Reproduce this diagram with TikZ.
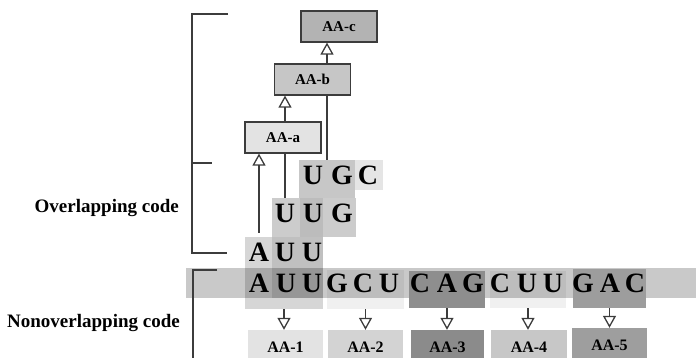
\documentclass[tikz,border=0pt]{standalone}
\usepackage{fontspec}
\setmainfont{Liberation Serif}
\usetikzlibrary{arrows.meta}

\definecolor{ink}{HTML}{3C3C3C}
\definecolor{bandgray}{HTML}{C9C9C9}
\definecolor{aaCol}{HTML}{E3E3E3}
\definecolor{abCol}{HTML}{C6C6C6}
\definecolor{acCol}{HTML}{B3B3B3}
\definecolor{aa1Col}{HTML}{E3E3E3}
\definecolor{aa2Col}{HTML}{D3D3D3}
\definecolor{aa3Col}{HTML}{8B8B8B}
\definecolor{aa4Col}{HTML}{C7C7C7}
\definecolor{aa5Col}{HTML}{9E9E9E}
\definecolor{c3Col}{HTML}{8E8E8E}
\definecolor{c5Col}{HTML}{9D9D9D}

\tikzset{
  topaa/.style={draw=ink, line width=1.2pt, inner sep=0pt, minimum width=76pt, minimum height=31pt,
    font=\fontsize{15}{15}\selectfont\bfseries},
  botaa/.style={inner sep=0pt, minimum width=75pt, minimum height=34pt,
    font=\fontsize{16}{16}\selectfont\bfseries},
  codon/.style={inner sep=0pt},
  base/.style={inner sep=0pt, text=black, font=\fontsize{28}{28}\selectfont\bfseries},
  label/.style={anchor=east, inner sep=0pt, font=\fontsize{19}{19}\selectfont\bfseries},
  conn/.style={draw=ink, line width=1.3pt},
}

\begin{document}
\begin{tikzpicture}[x=1pt, y=-1pt, >={Triangle[open, length=12pt, width=13pt]}]
  \useasboundingbox (0,0) rectangle (696,358);
  % --- reading band ---
  \node[codon, fill=bandgray, minimum width=510pt, minimum height=30pt] (band) at (441,283) {};
  % --- codon boxes ---
  \node[codon, fill=black, fill opacity=.06, minimum width=77pt, minimum height=39pt] (c2) at (365.5,289.5) {};
  \node[codon, fill=black, fill opacity=.06, minimum width=76pt, minimum height=37pt] (c4) at (528,289.5) {};
  \node[codon, fill=black, fill opacity=.16, minimum width=78pt, minimum height=72pt] (c1) at (284,273) {};
  \node[codon, fill=c3Col, minimum width=76pt, minimum height=37pt] (c3) at (447,289.5) {};
  \node[codon, fill=c5Col, minimum width=73pt, minimum height=39pt] (c5) at (609.5,288.5) {};
  % --- overlapping frames ---
  \node[codon, fill=black, fill opacity=.2, minimum width=84pt, minimum height=39pt] (r2) at (314,217.5) {};
  \node[codon, fill=black, fill opacity=.22, minimum width=56pt, minimum height=38pt] (r3) at (327,179) {};
  \node[codon, fill=black, fill opacity=.1, minimum width=28pt, minimum height=30pt] (r3c) at (369,175) {};
  \fill[black, fill opacity=.08] (300,198) rectangle (323,237);
  \fill[black, fill opacity=.1] (272,237) rectangle (323,298);
  % --- letters ---
  \foreach \x/\b [count=\i] in {313/U,342/G,368/C}
    \node[base] (r3-\i) at (\x,175) {\b};
  \foreach \x/\b [count=\i] in {285/U,313/U,342/G}
    \node[base] (r2-\i) at (\x,213) {\b};
  \foreach \x/\b [count=\i] in {259/A,285/U,312/U}
    \node[base] (r1-\i) at (\x,252) {\b};
  \foreach \x/\b [count=\i] in {259/A,286/U,312/U,337/G,363/C,389/U,420/C,447/A,473/G,
                                500/C,527/U,553/U,583/G,610/A,635/C}
    \node[base] (m\i) at (\x,283) {\b};
  % --- amino acids ---
  \node[topaa, fill=aaCol] (aaa) at (283,137.5) {AA-a};
  \node[topaa, fill=abCol] (aab) at (312.5,79.5) {AA-b};
  \node[topaa, fill=acCol] (aac) at (339,26.5) {AA-c};
  \node[botaa, fill=aa1Col] (aa1) at (285.5,347) {AA-1};
  \node[botaa, fill=aa2Col] (aa2) at (365.5,347) {AA-2};
  \node[botaa, fill=aa3Col, minimum width=73pt] (aa3) at (447.5,347) {AA-3};
  \node[botaa, fill=aa4Col, minimum width=76pt] (aa4) at (529,347) {AA-4};
  \node[botaa, fill=aa5Col] (aa5) at (609.5,345) {AA-5};
  % --- arrows ---
  \draw[conn,->] ([yshift=19pt]r1-1.center) -- (r1-1 |- aaa.south);
  \draw[conn] (r2-1 |- aaa.south) -- (r2-1 |- r2.north);
  \draw[conn,->] (r2-1 |- aaa.north) -- (r2-1 |- aab.south);
  \draw[conn] (r3.north |- aab.south) -- (r3.north);
  \draw[conn,->] (r3.north |- aab.north) -- (r3.north |- aac.south);
  \foreach \i in {1,...,5}
    \draw[conn,->] (c\i.south) -- (c\i.south |- aa\i.north);
  % --- brackets ---
  \draw[conn, line width=1.2pt] (228,14) -- (192,14) -- (192,253) -- (227,253);
  \draw[conn, line width=1.2pt] (192,163) -- (212,163);
  \draw[conn, line width=1.2pt] (217,270) -- (193,270) -- (193,362);
  \node[label] (over) at (179,208) {Overlapping code};
  \node[label] (nonover) at (180,323) {Nonoverlapping code};
\end{tikzpicture}
\end{document}
